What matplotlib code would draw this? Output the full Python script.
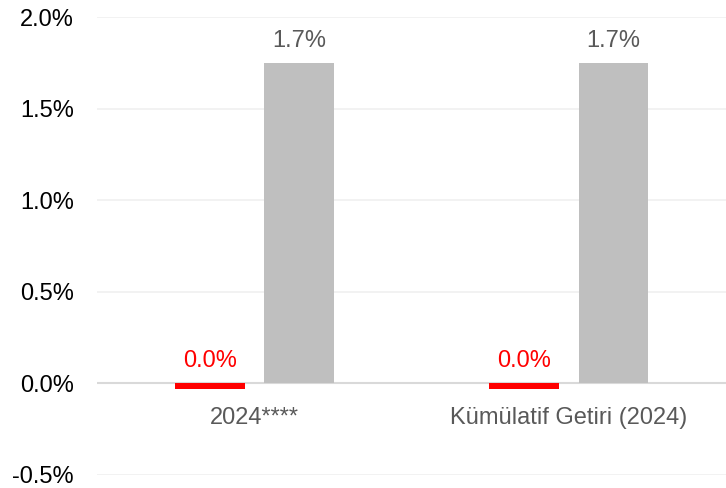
import matplotlib.pyplot as plt
import numpy as np

plt.rcParams['font.family'] = ['Liberation Sans', 'DejaVu Sans']

categories = ["2024****", "Kümülatif Getiri (2024)"]
fund = [-0.03, -0.03]
benchmark = [1.75, 1.75]
fund_labels = ["0.0%", "0.0%"]
bench_labels = ["1.7%", "1.7%"]
yticks = [-0.5, 0.0, 0.5, 1.0, 1.5, 2.0]

fig = plt.figure(figsize=(7.26, 4.88), dpi=100)
ax = fig.add_axes([0.134, 0.027, 0.866, 0.938])

x = np.arange(len(categories))
w = 0.222
off = 0.142

ax.bar(x - off, fund, w, color="#ff0000", zorder=3)
ax.bar(x + off, benchmark, w, color="#bfbfbf", zorder=3)

for i in range(len(x)):
    ax.text(x[i] - off, 0.06, fund_labels[i], ha="center", va="bottom",
            color="#ff0000", fontsize=17)
    ax.text(x[i] + off, benchmark[i] + 0.06, bench_labels[i], ha="center",
            va="bottom", color="#595959", fontsize=17)

ax.set_xlim(-0.5, 1.5)
ax.set_ylim(-0.5, 2.0)
ax.set_yticks(yticks)
ax.set_yticklabels(["{:.1f}%".format(v) for v in yticks])
ax.grid(axis="y", color="#f0f0f0", linewidth=1.2, zorder=0)
ax.axhline(0, color="#d9d9d9", linewidth=1.5, zorder=2)

ax.set_xticks(x)
ax.set_xticklabels(categories)
ax.tick_params(axis="x", length=0, pad=-49, labelsize=17, labelcolor="#595959")
ax.tick_params(axis="y", length=0, pad=17, labelsize=17, labelcolor="black")
for s in ax.spines.values():
    s.set_visible(False)

fig.savefig("out.png", dpi=100)
